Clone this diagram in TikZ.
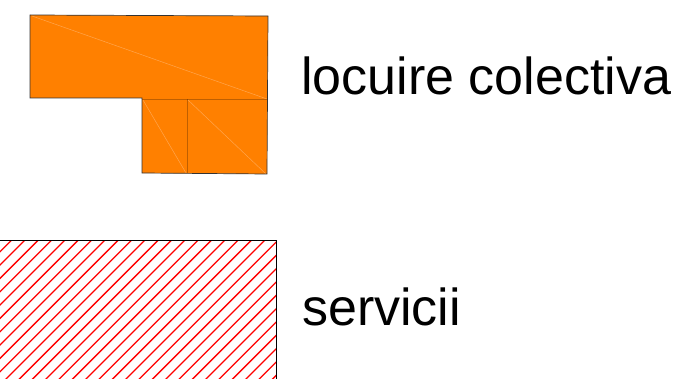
\documentclass[tikz,border=0pt]{standalone}
\usepackage{fontspec}
\setmainfont{Liberation Sans}
\definecolor{locuinta}{RGB}{255,128,0}

\begin{document}
\begin{tikzpicture}[x=1pt,y=-1pt]
\useasboundingbox (0,0) rectangle (679,379);
% locuire colectiva
\fill[locuinta] (30,15) -- (268,16) -- (267,174) -- (142,173) -- (142,98) -- (30,98) -- cycle;
\draw[white, opacity=0.3, line width=0.5pt] (32,16) -- (267,99);
\draw[white, opacity=0.3, line width=0.5pt] (143,100) -- (186,173);
\draw[white, opacity=0.3, line width=0.5pt] (188,100) -- (266,174);
\draw[black, opacity=0.25, line width=0.6pt] (142,99) -- (267,99);
\draw[black, opacity=0.25, line width=0.6pt] (187,99) -- (187,173);
\draw[line width=0.7pt, black!80] (30,15) -- (268,16) -- (267,174) -- (142,173) -- (142,98) -- (30,98) -- cycle;
\node[anchor=base west, inner sep=0pt, font=\fontsize{52}{62}\selectfont] (locuire) at (301,95) {locuire colectiva};

% servicii
\begin{scope} % start of clip scope
\clip (-5,240) rectangle (276,385);
\foreach \k in {0,...,31}
  \draw[red, line width=1.3pt] ({11.7+13.33*\k},240) -- ++(-150,150);
\end{scope} % end of clip scope
\draw[line width=1pt] (-5,240) -- (276,240) -- (276,385);
\node[anchor=base west, inner sep=0pt, font=\fontsize{52}{62}\selectfont] (servicii) at (302,325) {servicii};
\end{tikzpicture}
\end{document}
